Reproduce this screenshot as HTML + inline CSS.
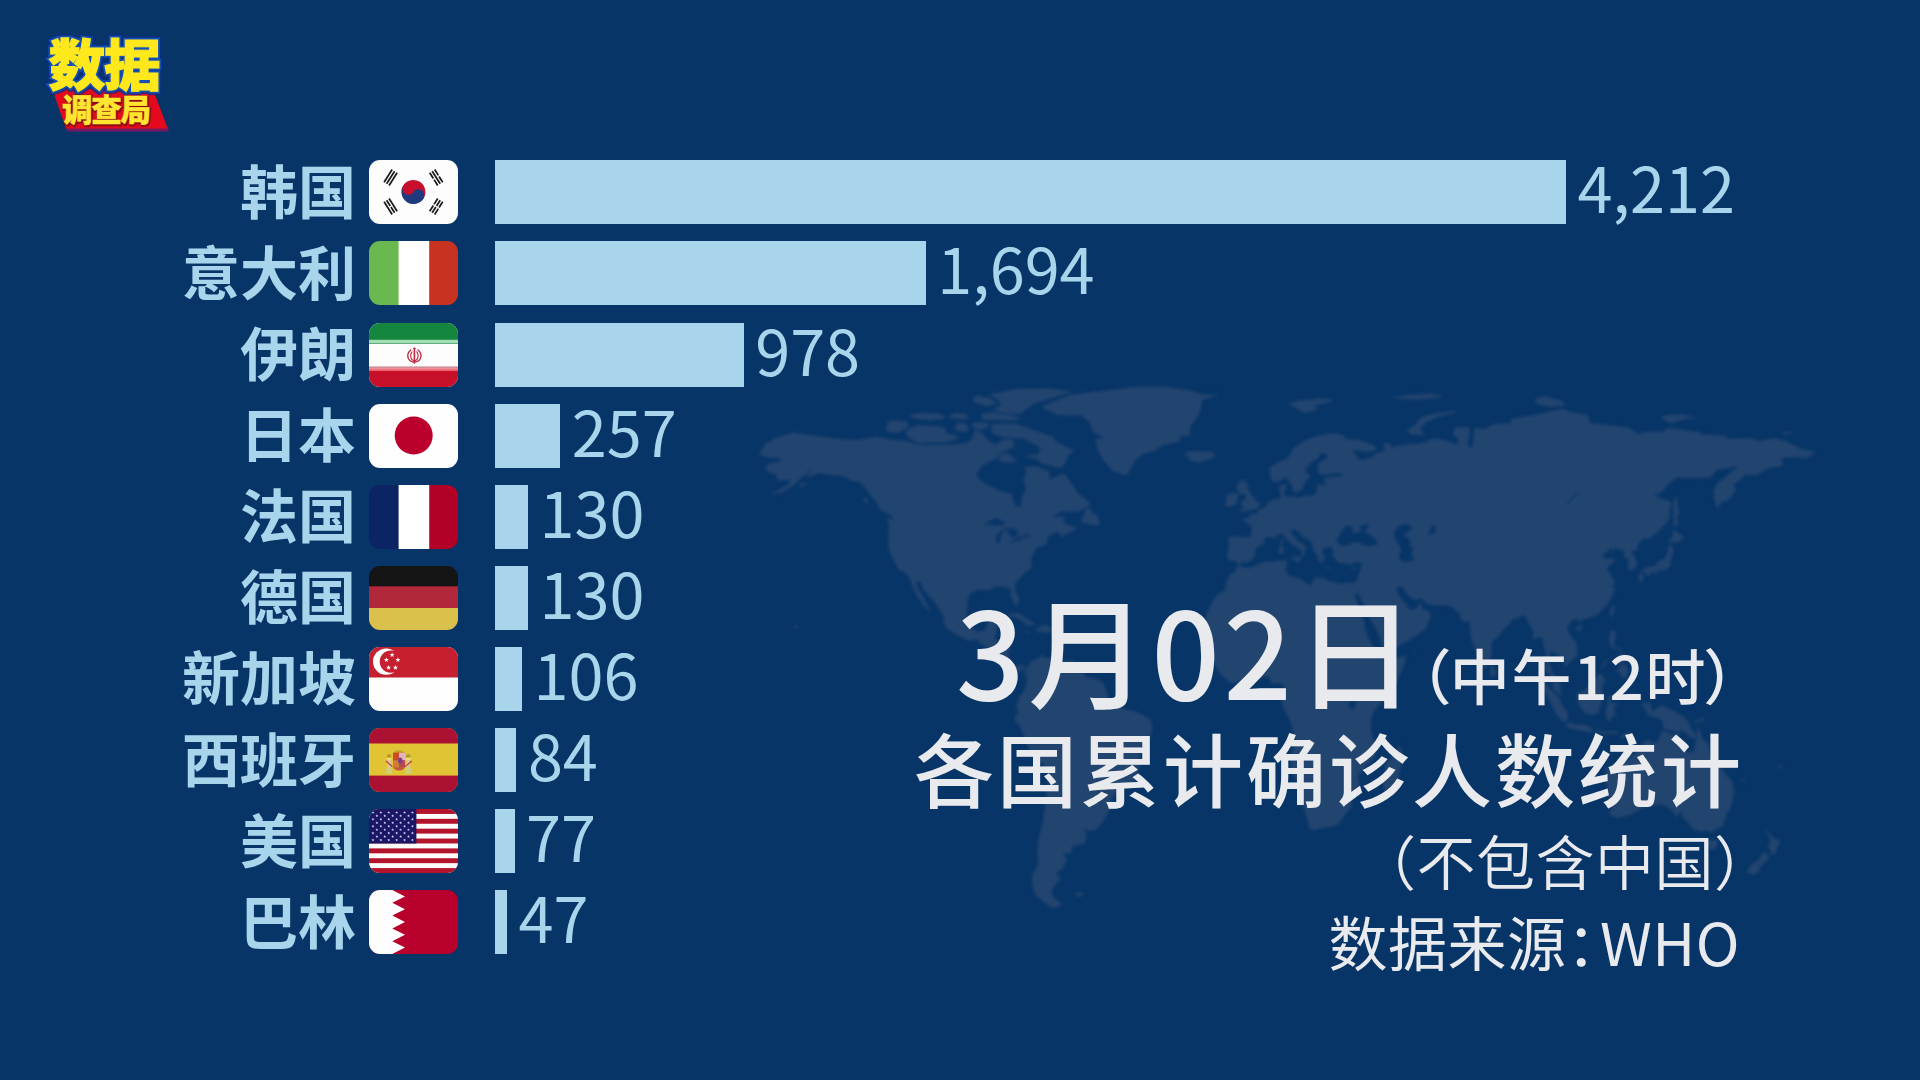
<!DOCTYPE html>
<html lang="zh-CN"><head><meta charset="utf-8"><title>各国累计确诊人数统计</title>
<style>
html,body{margin:0;padding:0;}
body{width:1920px;height:1080px;overflow:hidden;background:#073567;position:relative;
 font-family:"Noto Sans CJK SC","Liberation Sans",sans-serif;}
.abs{position:absolute;}
.row{position:absolute;left:0;width:1920px;height:64px;}
.lbl{position:absolute;right:1564px;top:-3.5px;height:64px;line-height:64px;font-size:58px;font-weight:700;color:#a8d5eb;white-space:nowrap;}
.flag{position:absolute;left:368.5px;top:0;width:89px;height:64px;border-radius:11px;overflow:hidden;}
.flag svg{display:block;width:89px;height:64px;}
.bar{position:absolute;left:495px;top:0;height:64px;background:#a8d5eb;}
.val{position:absolute;top:-6px;height:64px;line-height:64px;font-size:63px;font-weight:400;color:#a8d5eb;white-space:nowrap;}
.t{position:absolute;white-space:nowrap;color:#e9eaee;}
</style></head>
<body>
<svg class="abs" id="worldmap" style="left:0;top:0" width="1920" height="1080" viewBox="0 0 1920 1080"><defs><filter id="mb" x="-2%" y="-2%" width="104%" height="104%"><feGaussianBlur stdDeviation="1.4"/></filter></defs><path d="M759.4 454.4L765.3 443.9L777.1 437.5L793.3 432.6L812.5 435.6L839.0 439.0L856.8 440.1L877.4 436.8L889.2 439.4L906.9 441.2L918.7 445.0L936.4 445.0L948.2 445.0L965.9 443.1L971.8 439.4L974.8 430.0L980.6 431.9L989.5 441.2L995.4 445.0L1004.2 439.4L1013.1 439.4L1014.6 446.9L1001.3 452.5L996.9 458.1L982.1 465.6L976.2 475.0L980.6 480.6L989.5 486.2L1004.2 492.6L1012.2 493.8L1013.1 501.2L1017.5 507.6L1020.5 506.9L1022.0 497.5L1026.4 488.1L1023.4 479.9L1026.4 473.1L1024.9 466.4L1036.7 466.4L1048.5 471.2L1050.0 479.5L1061.8 473.9L1064.7 473.9L1072.1 484.4L1078.0 493.8L1086.8 499.4L1090.7 505.0L1086.8 507.2L1078.0 511.8L1060.3 511.8L1051.5 518.1L1063.2 516.2L1064.7 523.8L1075.0 527.5L1078.0 523.8L1075.0 530.1L1066.2 533.9L1060.3 536.9L1058.8 531.2L1057.3 532.0L1048.5 536.1L1046.4 542.5L1048.5 543.6L1042.6 545.5L1036.7 548.1L1032.3 555.6L1030.8 561.2L1031.7 567.6L1024.9 572.9L1016.0 581.9L1015.2 589.4L1019.0 599.5L1018.1 605.5L1015.5 605.5L1010.7 595.8L1011.0 589.4L1007.2 587.5L1001.3 586.4L992.5 586.8L991.0 590.5L986.5 590.1L977.7 589.4L968.8 595.0L967.4 603.2L966.5 615.6L970.3 626.9L976.2 631.8L985.1 630.6L988.0 621.2L998.3 619.4L996.9 630.6L994.5 640.0L1001.3 640.4L1009.3 643.8L1008.7 658.8L1011.6 665.5L1019.0 665.5L1022.0 664.4L1026.4 667.8L1027.0 670.4L1024.0 672.6L1024.9 667.0L1019.0 672.6L1014.6 671.1L1010.1 668.9L1004.2 662.5L1001.9 658.8L996.9 651.2L989.5 648.2L982.7 645.2L976.2 639.2L968.8 640.4L957.0 635.1L946.7 628.8L943.8 623.1L944.4 617.5L936.4 605.1L932.0 598.8L923.1 589.4L921.6 582.6L916.3 581.1L917.2 587.5L923.1 596.9L927.5 606.2L932.0 613.8L924.6 607.0L917.2 596.1L913.4 587.5L909.6 578.1L905.4 572.5L899.2 570.6L895.1 562.0L892.1 557.5L888.6 548.9L888.6 538.8L889.2 526.4L887.1 518.5L892.1 518.9L893.6 522.6L892.7 516.2L886.2 512.5L878.9 508.8L877.4 503.1L870.6 495.6L867.1 490.0L859.7 481.8L852.3 481.4L843.5 475.8L830.2 475.0L818.4 473.1L808.1 477.6L806.6 471.2L812.5 470.5L802.2 476.9L794.8 484.4L783.0 491.9L769.7 495.6L777.1 491.1L788.9 484.4L790.4 479.9L777.1 480.2L777.1 475.0L768.2 472.0L765.3 467.5L768.8 463.8L780.0 461.9L780.0 458.1L769.7 458.1ZM1074.2 450.2L1067.7 456.6L1064.7 464.1L1060.3 467.9L1042.6 463.8L1035.2 458.5L1024.9 456.6L1030.8 455.1L1038.2 454.4L1041.1 448.8L1033.8 443.9L1023.4 438.2L1016.0 438.2L1004.2 437.5L992.5 433.8L991.0 424.4L1004.2 423.2L1016.0 423.6L1024.9 427.0L1035.2 430.8L1044.1 433.8L1052.9 436.8L1055.9 441.2L1066.2 446.9ZM957.0 439.4L945.2 442.8L930.5 442.4L918.7 443.5L908.4 437.5L905.4 431.9L909.8 428.1L918.7 425.1L936.4 426.2L945.2 428.1L946.7 433.8L957.0 435.6ZM886.2 430.0L892.1 433.0L899.5 431.9L908.4 426.2L906.9 421.4L895.1 420.6L887.7 421.8ZM1019.0 413.9L1026.4 409.4L1033.8 403.8L1057.3 396.2L1073.6 391.4L1048.5 388.4L1019.0 388.8L989.5 394.4L998.3 400.0L1001.3 405.6L992.5 409.4L1004.2 413.5ZM974.8 401.9L986.5 406.4L996.9 403.8L989.5 398.1L977.7 395.5L971.8 398.9ZM1019.0 419.9L1004.2 420.6L983.6 419.9L980.6 413.9L992.5 412.0L1017.5 416.5ZM945.2 418.8L930.5 419.9L915.8 418.8L908.4 415.0L921.6 413.1L936.4 413.5L943.8 415.8ZM988.0 427.0L980.6 430.0L973.3 428.1L971.8 423.2L983.6 422.5L988.6 423.6ZM968.8 430.0L963.0 432.6L954.1 428.9L957.0 423.6L965.9 423.2ZM1017.5 461.1L1007.2 463.0L998.3 461.1L1001.3 453.6L1008.7 453.2L1014.6 458.9ZM968.8 418.8L960.0 419.1L948.2 417.6L954.1 413.1L965.9 413.9ZM1080.1 521.5L1089.8 524.5L1098.7 525.2L1099.5 521.5L1097.2 515.1L1091.3 512.5L1090.7 506.9L1085.4 510.6L1082.4 518.1ZM1004.5 618.2L1011.6 613.0L1019.0 613.4L1026.4 618.6L1036.1 624.2L1026.4 625.4L1024.9 622.4L1017.5 618.2L1013.1 616.0ZM1035.2 631.4L1041.1 625.4L1048.5 625.8L1053.2 630.2L1045.5 633.2L1042.6 631.8ZM1024.0 631.4L1029.9 632.1L1027.8 633.2L1024.3 632.5ZM1056.8 631.0L1061.5 631.4L1060.3 632.9L1056.8 632.5ZM1126.7 475.4L1113.4 471.2L1103.1 460.0L1097.2 448.8L1095.7 439.4L1104.5 437.5L1092.8 431.9L1089.8 422.5L1081.0 415.0L1057.3 415.0L1041.1 406.8L1057.3 400.0L1072.1 394.4L1107.5 390.6L1137.0 386.9L1166.5 386.9L1190.1 390.6L1201.9 394.4L1219.6 394.4L1201.9 400.0L1200.4 411.2L1196.0 418.8L1190.1 426.2L1190.1 435.6L1178.3 436.4L1181.2 441.2L1163.5 445.0L1154.7 450.6L1142.9 454.0L1135.5 460.0L1131.1 467.5ZM1182.7 454.4L1190.1 451.0L1201.9 451.8L1212.2 451.4L1215.2 456.2L1210.8 458.9L1199.0 462.2L1188.6 460.4L1190.1 457.0ZM1027.0 668.1L1032.3 660.6L1039.7 657.6L1043.5 653.5L1044.1 658.8L1048.5 656.9L1052.9 660.6L1066.2 660.6L1072.1 659.9L1075.0 664.4L1078.0 668.1L1086.8 677.5L1095.7 678.2L1103.1 683.1L1107.5 693.6L1107.5 700.0L1113.4 702.6L1125.2 709.4L1132.6 710.9L1141.4 713.9L1150.9 719.9L1152.3 728.1L1150.9 735.6L1144.4 743.1L1140.0 750.6L1140.0 763.8L1137.0 775.0L1134.0 782.5L1126.7 786.2L1117.8 790.0L1111.9 797.5L1111.3 806.9L1106.0 816.2L1100.1 824.9L1095.7 830.1L1088.3 830.5L1083.0 827.5L1086.8 836.1L1084.8 843.2L1072.1 846.2L1071.2 853.0L1063.2 853.8L1066.8 859.4L1062.4 868.8L1055.9 872.5L1060.9 878.1L1051.5 889.4L1053.2 896.5L1062.4 905.1L1052.9 908.1L1044.1 902.5L1035.2 895.0L1032.3 883.8L1032.3 874.4L1038.2 865.0L1037.6 853.8L1038.2 839.5L1042.6 823.8L1044.1 812.5L1047.0 793.8L1047.9 775.0L1047.3 768.6L1042.6 763.8L1032.3 756.2L1029.9 750.6L1026.4 743.1L1022.0 730.8L1019.0 724.4L1015.2 721.8L1015.2 716.1L1019.0 712.4L1016.3 708.2L1016.6 703.8L1019.0 699.2L1019.0 696.2L1022.5 694.0L1026.4 685.0L1026.4 675.6L1024.0 672.6ZM1237.6 565.8L1249.1 568.0L1255.0 565.8L1263.8 562.0L1275.7 561.2L1284.5 560.1L1287.5 561.2L1285.4 570.6L1288.9 575.5L1299.2 578.5L1311.0 586.4L1314.0 578.1L1322.8 577.4L1328.8 581.1L1340.5 583.8L1349.4 582.6L1350.9 587.5L1355.3 596.9L1359.7 610.0L1364.2 621.2L1365.0 629.5L1370.0 641.9L1376.8 650.5L1382.4 653.1L1381.8 656.9L1387.8 660.6L1396.6 658.0L1406.0 655.4L1404.9 662.5L1399.5 675.6L1396.6 683.1L1390.7 691.8L1383.3 700.0L1377.4 706.8L1373.0 713.1L1370.6 722.5L1371.8 733.8L1374.5 741.2L1375.1 756.2L1367.1 765.6L1358.2 775.0L1359.7 790.0L1352.3 796.8L1351.5 806.9L1346.5 812.5L1339.1 823.0L1331.7 826.8L1319.9 828.2L1314.0 830.5L1309.3 828.2L1308.1 821.9L1303.7 807.6L1299.2 797.5L1297.8 784.4L1290.4 767.5L1291.9 752.5L1295.7 741.2L1293.3 731.9L1290.4 720.6L1283.0 707.5L1281.5 700.0L1283.6 692.5L1283.6 685.0L1280.1 683.1L1272.7 683.9L1268.3 676.4L1260.9 676.4L1249.1 682.0L1241.7 680.5L1232.9 683.5L1228.5 681.2L1221.1 674.5L1216.1 667.0L1210.8 658.8L1205.7 653.1L1203.4 644.9L1206.3 640.0L1206.9 628.8L1204.8 621.2L1207.8 611.1L1212.2 602.5L1216.7 595.8L1225.5 589.4L1226.4 581.9L1229.9 575.1L1234.9 572.5ZM1400.4 745.0L1403.7 758.1L1401.0 765.6L1395.1 793.0L1387.8 796.0L1383.9 788.1L1382.7 780.6L1385.7 774.2L1384.8 763.8L1390.7 758.9L1396.6 750.6ZM1238.5 565.0L1236.4 562.0L1233.2 560.5L1228.7 561.2L1227.3 554.9L1229.0 546.2L1227.9 538.8L1231.4 536.1L1240.2 536.9L1249.7 537.2L1251.5 533.1L1252.0 527.5L1248.5 523.8L1241.1 518.9L1250.3 517.4L1249.7 513.6L1255.6 514.4L1259.7 509.5L1265.3 507.2L1268.3 502.0L1272.7 499.8L1280.1 499.0L1280.7 493.8L1278.9 488.1L1280.1 485.9L1286.3 483.6L1285.4 490.0L1283.6 492.6L1284.5 495.6L1287.5 497.5L1294.8 496.0L1297.2 497.9L1309.6 494.9L1313.4 496.0L1317.0 492.6L1317.0 486.2L1319.9 484.0L1326.7 485.5L1324.3 480.6L1324.3 478.0L1337.6 476.5L1344.1 475.0L1339.1 473.1L1328.8 474.2L1321.4 475.0L1317.8 471.2L1317.5 465.6L1319.9 462.6L1328.8 456.2L1325.8 453.2L1319.9 454.0L1318.4 458.1L1311.0 462.6L1306.0 467.5L1305.7 472.4L1310.5 475.4L1308.1 478.8L1303.7 484.4L1302.2 489.2L1297.2 491.9L1293.3 492.2L1292.8 488.1L1289.8 482.5L1287.5 478.8L1286.0 476.9L1283.0 479.5L1275.7 482.5L1271.2 479.5L1269.8 473.1L1269.8 467.5L1275.7 463.8L1284.5 460.0L1290.4 454.4L1293.3 448.8L1299.2 443.9L1305.2 440.5L1312.5 437.5L1322.8 434.9L1331.1 433.4L1339.1 434.1L1346.5 436.8L1343.5 438.6L1352.3 439.8L1361.2 440.5L1374.5 445.8L1376.0 449.9L1368.6 452.1L1358.2 450.6L1352.3 449.5L1356.8 456.2L1357.7 458.9L1365.6 460.4L1367.1 458.1L1373.0 457.8L1374.5 453.6L1383.3 451.8L1384.8 445.8L1383.3 443.1L1390.7 443.9L1392.2 448.8L1396.6 446.1L1411.3 443.9L1414.3 444.2L1426.1 442.0L1433.5 438.6L1443.8 440.1L1452.7 443.1L1457.1 444.2L1458.5 439.4L1452.7 433.8L1455.6 427.4L1468.9 427.0L1469.8 433.8L1467.4 445.0L1471.8 448.8L1473.3 441.2L1474.8 428.1L1485.1 428.9L1492.5 424.4L1510.2 423.2L1511.7 418.8L1535.2 415.0L1562.7 408.6L1570.7 412.4L1588.3 415.0L1589.8 423.6L1603.1 424.4L1617.8 426.2L1629.7 428.1L1637.0 433.8L1647.3 431.9L1662.1 431.9L1668.0 428.1L1697.5 431.9L1703.4 434.5L1724.0 435.6L1728.5 439.0L1750.6 438.2L1758.0 441.2L1774.2 438.2L1786.0 441.2L1800.8 448.8L1816.1 452.5L1806.7 458.1L1791.9 457.0L1781.6 458.1L1783.1 465.6L1768.3 468.2L1757.4 475.0L1744.7 475.0L1737.3 482.5L1732.9 484.4L1735.8 490.0L1732.9 494.5L1727.0 501.2L1722.0 501.6L1717.3 508.8L1714.3 499.4L1713.7 490.0L1717.6 483.2L1725.5 476.9L1735.8 468.6L1738.8 465.6L1728.5 468.2L1717.3 469.4L1710.8 476.9L1700.5 478.0L1676.8 477.6L1669.5 483.2L1661.5 491.9L1654.1 494.9L1660.6 498.6L1669.5 501.2L1671.8 504.2L1669.5 508.8L1669.2 519.2L1662.7 526.8L1654.7 535.0L1647.3 539.5L1643.8 538.0L1640.6 541.4L1637.6 545.1L1637.0 550.0L1631.1 551.1L1633.8 555.6L1636.7 561.2L1636.4 566.9L1634.1 569.1L1628.2 571.0L1628.2 563.1L1628.8 558.6L1623.8 557.5L1624.6 551.9L1621.7 550.0L1614.9 548.1L1612.8 553.8L1612.0 547.0L1606.0 553.0L1602.2 554.5L1605.8 559.4L1611.1 558.2L1616.4 560.5L1610.5 564.2L1606.6 568.8L1609.9 573.2L1614.3 581.1L1614.6 584.5L1611.1 586.4L1614.9 588.2L1613.4 593.9L1608.1 603.6L1603.1 608.5L1598.7 613.4L1591.9 616.4L1584.5 619.4L1580.4 620.1L1579.5 623.9L1578.6 619.0L1574.2 619.0L1569.8 623.1L1566.8 629.1L1571.2 637.0L1576.0 642.2L1577.4 651.2L1576.5 656.9L1570.7 661.0L1564.8 667.4L1564.2 661.4L1558.8 658.8L1557.4 654.2L1553.0 652.4L1551.5 649.4L1550.0 653.1L1547.9 660.6L1550.6 668.1L1553.0 674.5L1556.8 676.8L1560.0 683.1L1560.0 689.9L1562.4 694.8L1560.0 694.8L1553.8 689.5L1551.2 679.4L1549.4 674.5L1545.0 669.2L1545.6 662.5L1546.2 655.0L1543.2 643.8L1542.9 638.1L1538.2 637.0L1533.2 640.0L1533.2 630.6L1527.3 621.2L1525.8 616.0L1522.0 615.6L1517.5 618.2L1511.7 619.4L1511.1 623.1L1505.8 626.9L1497.8 637.0L1491.6 641.9L1491.6 650.5L1490.4 661.4L1488.0 665.1L1483.9 669.6L1480.1 662.9L1475.7 651.2L1471.8 640.0L1469.8 628.8L1469.5 621.2L1464.5 622.0L1458.5 616.4L1461.5 614.5L1457.1 611.9L1452.7 607.0L1445.3 605.1L1436.4 605.5L1426.1 604.0L1423.2 599.9L1421.1 598.0L1415.8 600.2L1409.9 596.9L1404.9 591.2L1402.5 586.8L1399.0 586.4L1396.6 588.2L1397.5 593.1L1402.5 599.9L1403.1 603.6L1406.3 602.1L1406.9 607.8L1411.3 609.6L1415.8 608.9L1420.8 601.8L1421.7 608.1L1428.2 611.5L1431.4 615.6L1427.6 623.5L1425.5 628.8L1417.8 634.4L1409.0 640.0L1399.5 645.6L1387.8 652.0L1383.3 652.4L1381.3 644.5L1380.4 638.1L1376.0 628.8L1370.6 619.8L1368.6 611.9L1364.2 604.4L1358.8 595.0L1358.0 589.4L1356.2 595.8L1352.9 592.8L1351.2 587.5L1350.3 582.6L1355.9 582.6L1358.2 576.2L1360.9 568.0L1361.8 562.4L1356.8 562.0L1349.4 564.6L1345.0 563.1L1338.2 562.4L1335.5 559.4L1332.6 555.6L1333.2 551.9L1332.3 549.6L1331.7 547.0L1325.8 547.0L1325.8 549.2L1322.3 548.1L1322.3 552.6L1325.8 557.5L1325.8 558.6L1322.8 558.2L1323.4 560.1L1322.8 563.1L1321.1 563.1L1319.0 562.0L1317.5 558.2L1317.8 556.0L1316.4 554.5L1314.0 551.1L1312.2 548.1L1312.5 543.2L1309.6 540.6L1305.2 538.0L1300.7 535.0L1297.8 530.5L1295.4 531.6L1295.4 528.6L1291.3 530.1L1291.6 534.2L1295.1 536.9L1298.7 542.5L1302.2 542.9L1304.6 545.5L1309.6 549.2L1305.2 548.1L1304.0 551.1L1305.4 553.8L1302.5 557.5L1301.3 557.1L1302.2 553.8L1301.0 550.0L1297.8 547.4L1293.3 545.1L1291.0 543.2L1287.5 540.6L1285.4 536.9L1283.6 534.6L1281.0 533.5L1277.1 535.8L1274.2 538.4L1269.8 537.2L1266.2 536.9L1263.8 538.8L1264.4 542.9L1261.5 545.1L1257.4 547.0L1254.4 551.9L1255.6 554.5L1253.2 557.5L1252.6 559.0L1249.1 562.0L1242.0 562.4ZM1238.2 512.1L1244.7 511.4L1250.6 509.9L1258.8 508.0L1260.0 502.4L1255.9 501.2L1254.4 497.5L1250.6 493.8L1249.1 490.0L1246.7 488.1L1249.1 484.0L1244.7 483.6L1245.6 480.2L1240.2 480.2L1237.9 484.4L1236.7 487.8L1238.8 491.9L1240.5 494.5L1245.6 494.1L1245.6 498.2L1246.2 500.1L1241.7 500.1L1241.7 504.2L1239.7 505.8L1245.6 507.2L1242.3 508.4ZM1237.3 504.2L1236.7 500.1L1238.8 495.6L1235.8 493.0L1230.8 493.0L1225.5 496.8L1227.0 500.5L1224.6 505.0L1227.0 506.9L1231.4 505.8ZM1641.2 572.5L1645.9 567.2L1654.7 566.5L1658.6 560.5L1663.6 560.1L1667.4 553.8L1668.0 548.1L1671.8 544.8L1673.6 550.8L1671.0 557.5L1670.7 563.1L1670.4 566.1L1667.4 568.8L1664.5 569.9L1659.2 570.2L1655.6 574.4L1653.2 570.2L1651.8 573.2L1647.3 576.2L1645.3 574.4L1647.3 571.4L1641.5 572.9ZM1641.5 573.2L1643.8 577.0L1641.5 582.6L1639.1 582.6L1639.1 577.4L1637.6 575.1ZM1668.9 544.4L1671.5 541.4L1677.7 542.5L1684.2 537.6L1680.7 534.6L1673.3 529.8L1672.7 537.6L1668.9 539.5ZM1673.9 527.5L1678.3 524.5L1676.8 514.4L1679.8 515.5L1677.7 505.0L1676.3 496.4L1673.9 499.4L1673.3 512.5L1673.9 521.9ZM1612.0 617.5L1609.6 613.8L1612.0 605.5L1614.6 606.2L1613.4 611.9ZM1575.7 628.0L1581.0 625.0L1582.5 626.5L1578.3 631.8ZM1490.7 664.0L1494.5 668.1L1496.3 673.8L1492.5 677.5L1490.4 673.8ZM1610.5 630.6L1615.5 631.0L1614.9 639.2L1613.7 646.8L1620.8 648.2L1620.8 652.8L1617.8 648.2L1613.4 648.6L1610.8 646.4L1609.0 640.0ZM1614.9 673.8L1619.3 667.8L1624.9 663.2L1628.2 670.0L1627.3 675.6L1624.9 679.0L1620.8 675.6L1619.3 671.5ZM1614.9 660.6L1617.8 655.8L1623.8 653.1L1625.8 658.8L1623.2 662.5L1618.4 665.1L1616.4 663.2ZM1600.7 668.5L1607.5 657.6L1606.9 661.4L1602.5 668.1ZM1576.5 694.4L1578.0 692.5L1583.3 691.0L1588.3 687.6L1592.8 682.0L1597.2 675.6L1600.2 673.8L1606.0 680.1L1602.5 684.2L1602.5 692.5L1605.5 696.2L1601.6 700.0L1600.2 705.6L1598.1 713.1L1592.8 715.0L1584.5 712.8L1580.1 706.4L1576.5 698.9ZM1536.1 679.0L1542.6 680.5L1550.0 688.8L1553.0 691.8L1560.3 699.2L1560.9 703.8L1567.7 712.0L1567.1 721.8L1563.3 721.8L1556.8 715.0L1550.9 703.0L1546.2 693.6L1541.2 687.6ZM1565.3 725.5L1570.1 722.5L1575.1 724.8L1581.9 724.0L1587.5 725.9L1592.8 729.2L1592.5 732.6L1582.5 731.1L1573.6 729.2L1568.9 727.8ZM1594.8 730.8L1600.2 731.1L1606.0 731.5L1612.0 731.5L1617.8 731.1L1617.3 733.4L1609.0 733.8L1600.2 733.8L1594.8 733.0ZM1619.6 738.6L1623.8 733.8L1629.7 731.5L1628.2 734.5L1622.3 738.2ZM1608.4 697.0L1612.0 695.1L1620.8 696.2L1624.3 694.0L1622.3 698.5L1612.0 698.1L1609.6 703.8L1618.7 703.4L1613.4 707.5L1616.4 716.9L1612.0 715.0L1610.5 721.0L1607.5 720.6L1606.0 713.1L1607.5 703.8ZM1631.1 692.5L1634.7 694.4L1633.2 701.9L1631.4 698.1ZM1641.5 703.0L1650.3 703.0L1651.8 711.2L1661.5 705.6L1671.0 709.8L1682.8 716.1L1688.7 722.5L1691.0 728.1L1699.0 739.8L1690.1 737.5L1681.3 728.9L1676.8 734.5L1671.0 734.1L1664.5 731.1L1661.5 719.5L1653.2 716.5L1647.3 715.0L1646.8 710.5L1642.3 705.6ZM1692.5 721.0L1699.0 720.6L1704.0 715.8L1703.4 719.9L1697.5 723.6ZM1605.1 769.0L1606.7 784.0L1609.3 799.0L1611.6 806.5L1609.3 815.1L1619.0 817.8L1632.0 814.0L1638.5 810.2L1645.0 807.6L1654.7 805.0L1661.9 804.6L1671.0 809.5L1676.5 817.0L1682.3 810.2L1682.3 817.8L1685.6 819.6L1689.8 824.5L1693.7 829.4L1701.8 832.0L1706.6 829.8L1711.2 833.1L1716.4 828.6L1722.9 826.4L1726.8 813.6L1731.0 806.5L1734.2 793.4L1732.6 782.1L1726.1 774.6L1720.6 767.1L1713.1 758.9L1709.9 752.1L1707.9 742.8L1702.8 740.1L1698.5 727.0L1695.9 735.2L1695.3 746.5L1693.0 752.5L1687.2 752.1L1682.3 746.5L1676.5 742.8L1680.0 732.2L1674.2 731.5L1666.4 728.9L1661.2 732.6L1657.3 742.0L1652.1 742.8L1647.6 739.0L1641.7 744.6L1636.9 751.4L1632.7 754.0L1628.8 760.0L1622.3 761.5L1615.1 763.8L1607.7 767.9ZM1705.7 839.1L1711.5 840.6L1717.4 839.5L1717.0 845.9L1713.1 850.0L1709.2 848.5L1707.3 844.0ZM1764.5 829.0L1769.2 833.1L1773.6 838.0L1780.1 841.0L1777.2 848.1L1775.1 853.8L1770.7 855.2L1771.2 850.0L1767.7 847.4L1770.4 842.5L1769.8 836.9ZM1764.5 851.9L1769.2 856.4L1765.3 862.0L1760.3 866.1L1758.9 872.1L1753.5 874.8L1746.2 872.5L1751.2 865.0L1758.0 860.9L1762.4 853.8ZM1738.8 775.8L1746.2 782.5L1747.7 784.0L1741.8 779.9ZM1286.9 403.8L1299.2 400.8L1308.1 400.0L1319.9 398.5L1334.7 399.6L1325.8 403.0L1314.0 405.2L1318.4 409.4L1305.2 412.8L1297.8 409.4L1294.8 406.8ZM1406.9 430.8L1411.3 434.5L1424.0 434.9L1420.2 428.1L1427.6 421.4L1437.9 416.9L1458.0 412.0L1451.2 411.2L1432.0 413.9L1420.2 418.0L1415.8 424.4L1409.9 428.1ZM1390.7 398.1L1408.4 399.2L1426.1 398.9L1443.8 397.0L1432.0 393.6L1408.4 395.1ZM1536.7 403.8L1550.0 406.8L1564.8 405.6L1561.8 400.8L1544.1 396.2L1535.2 399.2ZM1660.6 417.6L1671.0 423.2L1685.7 418.8L1697.5 418.0L1685.7 415.0L1668.0 415.0ZM1781.6 433.8L1790.4 434.1L1793.4 432.2L1784.5 431.9ZM1291.6 557.5L1301.0 556.4L1299.5 562.4L1291.9 559.0ZM1279.2 553.8L1279.2 546.6L1282.1 545.5L1283.6 550.0L1283.0 553.4ZM1280.4 540.6L1282.7 538.8L1283.0 544.4L1281.0 544.4ZM1324.3 566.9L1332.6 568.0L1327.3 569.1ZM1350.3 568.8L1356.8 566.5L1353.8 570.2ZM1412.2 652.8L1415.8 652.8L1413.7 653.9ZM794.8 624.2L797.8 625.8L796.0 628.8L794.8 626.9ZM1075.0 893.1L1083.9 892.4L1082.4 895.8L1076.5 895.8ZM1778.0 765.6L1782.2 766.0L1781.0 768.2L1778.0 767.9ZM799.2 484.4L805.1 481.8L805.1 485.5L800.7 487.0ZM862.6 497.5L866.5 497.5L868.0 503.9L864.7 502.0ZM1399.5 525.6L1405.5 523.8L1411.3 525.6L1411.3 530.1L1406.0 533.1L1403.4 533.9L1409.9 539.9L1410.5 546.2L1414.0 547.4L1411.3 552.6L1414.3 560.1L1405.5 562.4L1399.5 559.4L1399.3 554.5L1401.0 548.9L1397.2 542.5L1395.1 538.8L1393.7 533.1L1395.7 529.0ZM1340.5 545.5L1347.9 545.5L1353.8 542.5L1358.2 542.1L1364.2 545.5L1371.5 545.9L1377.7 544.0L1376.8 540.2L1372.1 536.9L1368.0 533.5L1365.0 531.2L1368.0 526.4L1370.6 523.0L1365.9 524.5L1358.8 526.8L1362.4 530.5L1359.1 531.6L1354.1 533.5L1351.2 529.8L1353.8 527.1L1348.8 525.2L1345.6 526.0L1342.6 530.5L1339.7 535.0L1337.3 538.0L1336.4 540.6L1337.9 543.6ZM983.6 524.5L995.4 518.1L1004.2 521.9L1005.1 525.6L998.3 525.6L989.5 524.9ZM996.3 543.2L999.8 543.2L1001.3 535.0L1004.8 528.2L1014.6 528.2L1019.0 532.8L1014.0 538.0L1009.3 535.8L1008.7 531.2L1002.8 529.4L996.0 535.0ZM1009.3 543.2L1022.0 539.9L1020.5 538.0L1029.9 536.9L1029.3 534.2L1020.5 535.8L1011.6 541.4ZM1349.4 701.1L1355.3 699.2L1355.3 707.5L1350.9 709.8L1348.5 705.6ZM1561.8 506.5L1569.2 503.1L1578.0 493.8L1578.9 490.8L1573.6 496.4L1566.2 503.9ZM1427.6 535.0L1432.0 525.6L1436.4 526.4L1435.0 533.1Z" fill="#24446f" fill-rule="evenodd" filter="url(#mb)"/></svg>
<svg class="abs" id="logo" style="left:30px;top:20px" width="160" height="125" viewBox="30 20 160 125" font-family="'Noto Sans CJK SC','Liberation Sans',sans-serif" font-weight="900">
<polygon points="66,128 167.8,128 169,131.6 67.3,131.6" fill="#7a1762"/>
<polygon points="52.2,89 152.8,89 167.8,128.4 66,128.4" fill="#e30a1e"/>
<g font-size="57" letter-spacing="-1.6" transform="matrix(1 0 0 .965 0 2.98)">
<text x="48.5" y="84.5" fill="#0a2f86" stroke="#0a2f86" stroke-width="8.4" stroke-linejoin="round" opacity="0.8">数据</text>
<text x="48.5" y="84.5" fill="#1450b4" stroke="#1450b4" stroke-width="4.6" stroke-linejoin="miter">数据</text>
<text x="48.5" y="84.5" fill="#ffe81c" stroke="#ffe81c" stroke-width="1.1" stroke-linejoin="miter">数据</text>
</g>
<g font-size="30.5" letter-spacing="-1.3">
<text x="62.6" y="121.6" fill="#8c0a14" stroke="#8c0a14" stroke-width="2.6" stroke-linejoin="round">调查局</text>
<text x="62.0" y="120.8" fill="#ffe530" stroke="#ffe530" stroke-width="0.5">调查局</text>
</g>
</svg>

<div class="row" style="top:160.3px"><div class="lbl">韩国</div><div class="flag"><svg viewBox="0 0 89 64" preserveAspectRatio="none"><rect width="89" height="64" fill="#fdfdfd"/><g transform="translate(44.4 32.0) rotate(32.45)"><path d="M-12.0 0A12.0 12.0 0 0 1 12.0 0Z" fill="#c8102e"/><path d="M-12.0 0A12.0 12.0 0 0 0 12.0 0Z" fill="#1f3a7d"/><circle cx="-6.0" cy="0" r="6.0" fill="#c8102e"/><circle cx="6.0" cy="0" r="6.0" fill="#1f3a7d"/></g><g fill="#1c1c1c"><g transform="translate(21.60 17.50) rotate(212.45)"><rect x="-3.83" y="-7.50" width="1.75" height="15.0"/><rect x="-0.88" y="-7.50" width="1.75" height="15.0"/><rect x="2.08" y="-7.50" width="1.75" height="15.0"/></g><g transform="translate(67.20 46.50) rotate(32.45)"><rect x="-3.83" y="-7.50" width="1.75" height="6.85"/><rect x="-3.83" y="0.65" width="1.75" height="6.85"/><rect x="-0.88" y="-7.50" width="1.75" height="6.85"/><rect x="-0.88" y="0.65" width="1.75" height="6.85"/><rect x="2.08" y="-7.50" width="1.75" height="6.85"/><rect x="2.08" y="0.65" width="1.75" height="6.85"/></g><g transform="translate(67.20 17.50) rotate(-32.45)"><rect x="-3.83" y="-7.50" width="1.75" height="6.85"/><rect x="-3.83" y="0.65" width="1.75" height="6.85"/><rect x="-0.88" y="-7.50" width="1.75" height="15.0"/><rect x="2.08" y="-7.50" width="1.75" height="6.85"/><rect x="2.08" y="0.65" width="1.75" height="6.85"/></g><g transform="translate(21.60 46.50) rotate(147.55)"><rect x="-3.83" y="-7.50" width="1.75" height="15.0"/><rect x="-0.88" y="-7.50" width="1.75" height="6.85"/><rect x="-0.88" y="0.65" width="1.75" height="6.85"/><rect x="2.08" y="-7.50" width="1.75" height="15.0"/></g></g></svg></div><div class="bar" style="width:1071.0px"></div><div class="val" style="left:1577.5px">4,212</div></div>
<div class="row" style="top:241.4px"><div class="lbl">意大利</div><div class="flag"><svg viewBox="0 0 89 64" preserveAspectRatio="none"><rect width="30" height="64" fill="#6ab850"/><rect x="29.6" width="31" height="64" fill="#ffffff"/><rect x="60.4" width="29" height="64" fill="#c83221"/></svg></div><div class="bar" style="width:430.7px"></div><div class="val" style="left:937.2px">1,694</div></div>
<div class="row" style="top:322.5px"><div class="lbl">伊朗</div><div class="flag"><svg viewBox="0 0 89 64" preserveAspectRatio="none"><rect width="89" height="64" fill="#fdfdfd"/><rect width="89" height="17" fill="#14863e"/><rect y="16.8" width="89" height="4.2" fill="#a4dcb6"/><rect y="20.0" width="89" height="1" fill="#5fae7c"/><rect y="43.4" width="89" height="2.1" fill="#cf8e98"/><rect y="45.4" width="89" height="2.6" fill="#f2707b"/><rect y="47.9" width="89" height="16.1" fill="#c8102a"/><g fill="none" stroke="#bf2c45" stroke-width="1.45" stroke-linecap="round" transform="translate(0 1.7) translate(45.4 31) scale(0.96 0.97) translate(-45.4 -31)"><path d="M45.4 23.6V38.4" stroke-width="1.7"/><path d="M41.6 25.2C36.6 29.2 37.8 36.2 44.6 37.6"/><path d="M49.2 25.2C54.2 29.2 53.0 36.2 46.2 37.6"/><path d="M42.9 27.0C40.4 30.0 41.2 34.6 44.7 36.2" stroke-width="1.2"/><path d="M47.9 27.0C50.4 30.0 49.6 34.6 46.1 36.2" stroke-width="1.2"/><path d="M44.3 23.4Q45.4 22.6 46.5 23.4" stroke-width="1"/></g></svg></div><div class="bar" style="width:248.7px"></div><div class="val" style="left:755.2px">978</div></div>
<div class="row" style="top:403.6px"><div class="lbl">日本</div><div class="flag"><svg viewBox="0 0 89 64" preserveAspectRatio="none"><rect width="89" height="64" fill="#fefefe"/><circle cx="44.7" cy="31.5" r="19" fill="#bc002d"/></svg></div><div class="bar" style="width:65.3px"></div><div class="val" style="left:571.8px">257</div></div>
<div class="row" style="top:484.7px"><div class="lbl">法国</div><div class="flag"><svg viewBox="0 0 89 64" preserveAspectRatio="none"><rect width="30" height="64" fill="#0b2464"/><rect x="29.6" width="31" height="64" fill="#ffffff"/><rect x="60.4" width="29" height="64" fill="#b20026"/></svg></div><div class="bar" style="width:33.1px"></div><div class="val" style="left:539.6px">130</div></div>
<div class="row" style="top:565.8px"><div class="lbl">德国</div><div class="flag"><svg viewBox="0 0 89 64" preserveAspectRatio="none"><rect width="89" height="21" fill="#151414"/><rect y="20.3" width="89" height="22" fill="#b1283a"/><rect y="42" width="89" height="22" fill="#d9c14b"/></svg></div><div class="bar" style="width:33.1px"></div><div class="val" style="left:539.6px">130</div></div>
<div class="row" style="top:646.9px"><div class="lbl">新加坡</div><div class="flag"><svg viewBox="0 0 89 64" preserveAspectRatio="none"><rect width="89" height="64" fill="#fefefe"/><rect width="89" height="30.5" fill="#c61f30"/><mask id="sgm"><rect width="89" height="64" fill="#fff"/><circle cx="21.9" cy="14.6" r="11.2" fill="#000"/></mask><circle cx="17.2" cy="14.6" r="13.2" fill="#fff" mask="url(#sgm)"/><g fill="#fff"><polygon points="23.10,5.40 23.74,7.12 25.57,7.20 24.14,8.34 24.63,10.10 23.10,9.09 21.57,10.10 22.06,8.34 20.63,7.20 22.46,7.12"/><polygon points="17.40,10.40 18.04,12.12 19.87,12.20 18.44,13.34 18.93,15.10 17.40,14.09 15.87,15.10 16.36,13.34 14.93,12.20 16.76,12.12"/><polygon points="28.90,10.20 29.54,11.92 31.37,12.00 29.94,13.14 30.43,14.90 28.90,13.89 27.37,14.90 27.86,13.14 26.43,12.00 28.26,11.92"/><polygon points="19.60,18.00 20.24,19.72 22.07,19.80 20.64,20.94 21.13,22.70 19.60,21.69 18.07,22.70 18.56,20.94 17.13,19.80 18.96,19.72"/><polygon points="26.50,18.00 27.14,19.72 28.97,19.80 27.54,20.94 28.03,22.70 26.50,21.69 24.97,22.70 25.46,20.94 24.03,19.80 25.86,19.72"/></g></svg></div><div class="bar" style="width:27.0px"></div><div class="val" style="left:533.5px">106</div></div>
<div class="row" style="top:728.0px"><div class="lbl">西班牙</div><div class="flag"><svg viewBox="0 0 89 64" preserveAspectRatio="none"><rect width="89" height="64" fill="#e1c434"/><rect width="89" height="15.5" fill="#ab1133"/><rect y="47.6" width="89" height="16.4" fill="#ab1133"/><defs><filter id="esb"><feGaussianBlur stdDeviation="0.55"/></filter></defs><g filter="url(#esb)"><path d="M25 23.8Q30 20.4 35 23.8L34.4 25H25.6Z" fill="#c9a02c"/><path d="M24 24.8H36V37.5Q36 42.2 30 42.6Q24 42.2 24 37.5Z" fill="#c4573a"/><rect x="24" y="24.8" width="6" height="7.5" fill="#cc4a2c"/><rect x="30" y="24.8" width="6" height="7.5" fill="#e7b3b8"/><rect x="24" y="32.3" width="6" height="7" fill="#cf7f34"/><rect x="30" y="32.3" width="6" height="7" fill="#b84a4e"/><ellipse cx="31.2" cy="32.6" rx="2.2" ry="3" fill="#7a3c8c"/><rect x="18.2" y="31.6" width="3.8" height="8.6" fill="#dcc39a"/><rect x="37.4" y="31.6" width="3.8" height="8.6" fill="#dcc39a"/><rect x="17.6" y="29.8" width="5" height="1.9" fill="#f0e27a"/><rect x="36.8" y="29.8" width="5" height="1.9" fill="#f0e27a"/><path d="M18 27.2Q20.1 24.6 22.2 27.2V29.6H18Z" fill="#b89a24"/><path d="M37.2 27.2Q39.3 24.6 41.4 27.2V29.6H37.2Z" fill="#a8a030"/><rect x="17.2" y="40.2" width="5.8" height="5.6" fill="#cfd07a"/><rect x="36.4" y="40.2" width="5.8" height="5.6" fill="#cfd07a"/><path d="M16.8 33L23.4 38.6M42.8 33L36.2 38.6" stroke="#c43a34" stroke-width="1.1" fill="none"/></g></svg></div><div class="bar" style="width:21.4px"></div><div class="val" style="left:527.9px">84</div></div>
<div class="row" style="top:809.1px"><div class="lbl">美国</div><div class="flag"><svg viewBox="0 0 89 64" preserveAspectRatio="none"><rect width="89" height="64" fill="#fdfdfd"/><rect y="0.000" width="89" height="4.923" fill="#b3142c"/><rect y="9.846" width="89" height="4.923" fill="#b3142c"/><rect y="19.692" width="89" height="4.923" fill="#b3142c"/><rect y="29.538" width="89" height="4.923" fill="#b3142c"/><rect y="39.385" width="89" height="4.923" fill="#b3142c"/><rect y="49.231" width="89" height="4.923" fill="#b3142c"/><rect y="59.077" width="89" height="4.923" fill="#b3142c"/><rect width="47.4" height="34.462" fill="#1b1666"/><g fill="#d6d6f4"><polygon points="3.95,1.90 4.33,2.92 5.42,2.97 4.57,3.65 4.86,4.70 3.95,4.10 3.04,4.70 3.33,3.65 2.48,2.97 3.57,2.92"/><polygon points="11.85,1.90 12.23,2.92 13.32,2.97 12.47,3.65 12.76,4.70 11.85,4.10 10.94,4.70 11.23,3.65 10.38,2.97 11.47,2.92"/><polygon points="19.75,1.90 20.13,2.92 21.22,2.97 20.37,3.65 20.66,4.70 19.75,4.10 18.84,4.70 19.13,3.65 18.28,2.97 19.37,2.92"/><polygon points="27.65,1.90 28.03,2.92 29.12,2.97 28.27,3.65 28.56,4.70 27.65,4.10 26.74,4.70 27.03,3.65 26.18,2.97 27.27,2.92"/><polygon points="35.55,1.90 35.93,2.92 37.02,2.97 36.17,3.65 36.46,4.70 35.55,4.10 34.64,4.70 34.93,3.65 34.08,2.97 35.17,2.92"/><polygon points="43.45,1.90 43.83,2.92 44.92,2.97 44.07,3.65 44.36,4.70 43.45,4.10 42.54,4.70 42.83,3.65 41.98,2.97 43.07,2.92"/><polygon points="7.90,5.34 8.28,6.37 9.37,6.41 8.52,7.09 8.81,8.15 7.90,7.54 6.99,8.15 7.28,7.09 6.43,6.41 7.52,6.37"/><polygon points="15.80,5.34 16.18,6.37 17.27,6.41 16.42,7.09 16.71,8.15 15.80,7.54 14.89,8.15 15.18,7.09 14.33,6.41 15.42,6.37"/><polygon points="23.70,5.34 24.08,6.37 25.17,6.41 24.32,7.09 24.61,8.15 23.70,7.54 22.79,8.15 23.08,7.09 22.23,6.41 23.32,6.37"/><polygon points="31.60,5.34 31.98,6.37 33.07,6.41 32.22,7.09 32.51,8.15 31.60,7.54 30.69,8.15 30.98,7.09 30.13,6.41 31.22,6.37"/><polygon points="39.50,5.34 39.88,6.37 40.97,6.41 40.12,7.09 40.41,8.15 39.50,7.54 38.59,8.15 38.88,7.09 38.03,6.41 39.12,6.37"/><polygon points="3.95,8.79 4.33,9.81 5.42,9.86 4.57,10.54 4.86,11.59 3.95,10.99 3.04,11.59 3.33,10.54 2.48,9.86 3.57,9.81"/><polygon points="11.85,8.79 12.23,9.81 13.32,9.86 12.47,10.54 12.76,11.59 11.85,10.99 10.94,11.59 11.23,10.54 10.38,9.86 11.47,9.81"/><polygon points="19.75,8.79 20.13,9.81 21.22,9.86 20.37,10.54 20.66,11.59 19.75,10.99 18.84,11.59 19.13,10.54 18.28,9.86 19.37,9.81"/><polygon points="27.65,8.79 28.03,9.81 29.12,9.86 28.27,10.54 28.56,11.59 27.65,10.99 26.74,11.59 27.03,10.54 26.18,9.86 27.27,9.81"/><polygon points="35.55,8.79 35.93,9.81 37.02,9.86 36.17,10.54 36.46,11.59 35.55,10.99 34.64,11.59 34.93,10.54 34.08,9.86 35.17,9.81"/><polygon points="43.45,8.79 43.83,9.81 44.92,9.86 44.07,10.54 44.36,11.59 43.45,10.99 42.54,11.59 42.83,10.54 41.98,9.86 43.07,9.81"/><polygon points="7.90,12.23 8.28,13.26 9.37,13.31 8.52,13.99 8.81,15.04 7.90,14.44 6.99,15.04 7.28,13.99 6.43,13.31 7.52,13.26"/><polygon points="15.80,12.23 16.18,13.26 17.27,13.31 16.42,13.99 16.71,15.04 15.80,14.44 14.89,15.04 15.18,13.99 14.33,13.31 15.42,13.26"/><polygon points="23.70,12.23 24.08,13.26 25.17,13.31 24.32,13.99 24.61,15.04 23.70,14.44 22.79,15.04 23.08,13.99 22.23,13.31 23.32,13.26"/><polygon points="31.60,12.23 31.98,13.26 33.07,13.31 32.22,13.99 32.51,15.04 31.60,14.44 30.69,15.04 30.98,13.99 30.13,13.31 31.22,13.26"/><polygon points="39.50,12.23 39.88,13.26 40.97,13.31 40.12,13.99 40.41,15.04 39.50,14.44 38.59,15.04 38.88,13.99 38.03,13.31 39.12,13.26"/><polygon points="3.95,15.68 4.33,16.70 5.42,16.75 4.57,17.43 4.86,18.48 3.95,17.88 3.04,18.48 3.33,17.43 2.48,16.75 3.57,16.70"/><polygon points="11.85,15.68 12.23,16.70 13.32,16.75 12.47,17.43 12.76,18.48 11.85,17.88 10.94,18.48 11.23,17.43 10.38,16.75 11.47,16.70"/><polygon points="19.75,15.68 20.13,16.70 21.22,16.75 20.37,17.43 20.66,18.48 19.75,17.88 18.84,18.48 19.13,17.43 18.28,16.75 19.37,16.70"/><polygon points="27.65,15.68 28.03,16.70 29.12,16.75 28.27,17.43 28.56,18.48 27.65,17.88 26.74,18.48 27.03,17.43 26.18,16.75 27.27,16.70"/><polygon points="35.55,15.68 35.93,16.70 37.02,16.75 36.17,17.43 36.46,18.48 35.55,17.88 34.64,18.48 34.93,17.43 34.08,16.75 35.17,16.70"/><polygon points="43.45,15.68 43.83,16.70 44.92,16.75 44.07,17.43 44.36,18.48 43.45,17.88 42.54,18.48 42.83,17.43 41.98,16.75 43.07,16.70"/><polygon points="7.90,19.13 8.28,20.15 9.37,20.20 8.52,20.88 8.81,21.93 7.90,21.33 6.99,21.93 7.28,20.88 6.43,20.20 7.52,20.15"/><polygon points="15.80,19.13 16.18,20.15 17.27,20.20 16.42,20.88 16.71,21.93 15.80,21.33 14.89,21.93 15.18,20.88 14.33,20.20 15.42,20.15"/><polygon points="23.70,19.13 24.08,20.15 25.17,20.20 24.32,20.88 24.61,21.93 23.70,21.33 22.79,21.93 23.08,20.88 22.23,20.20 23.32,20.15"/><polygon points="31.60,19.13 31.98,20.15 33.07,20.20 32.22,20.88 32.51,21.93 31.60,21.33 30.69,21.93 30.98,20.88 30.13,20.20 31.22,20.15"/><polygon points="39.50,19.13 39.88,20.15 40.97,20.20 40.12,20.88 40.41,21.93 39.50,21.33 38.59,21.93 38.88,20.88 38.03,20.20 39.12,20.15"/><polygon points="3.95,22.57 4.33,23.60 5.42,23.64 4.57,24.32 4.86,25.38 3.95,24.77 3.04,25.38 3.33,24.32 2.48,23.64 3.57,23.60"/><polygon points="11.85,22.57 12.23,23.60 13.32,23.64 12.47,24.32 12.76,25.38 11.85,24.77 10.94,25.38 11.23,24.32 10.38,23.64 11.47,23.60"/><polygon points="19.75,22.57 20.13,23.60 21.22,23.64 20.37,24.32 20.66,25.38 19.75,24.77 18.84,25.38 19.13,24.32 18.28,23.64 19.37,23.60"/><polygon points="27.65,22.57 28.03,23.60 29.12,23.64 28.27,24.32 28.56,25.38 27.65,24.77 26.74,25.38 27.03,24.32 26.18,23.64 27.27,23.60"/><polygon points="35.55,22.57 35.93,23.60 37.02,23.64 36.17,24.32 36.46,25.38 35.55,24.77 34.64,25.38 34.93,24.32 34.08,23.64 35.17,23.60"/><polygon points="43.45,22.57 43.83,23.60 44.92,23.64 44.07,24.32 44.36,25.38 43.45,24.77 42.54,25.38 42.83,24.32 41.98,23.64 43.07,23.60"/><polygon points="7.90,26.02 8.28,27.04 9.37,27.09 8.52,27.77 8.81,28.82 7.90,28.22 6.99,28.82 7.28,27.77 6.43,27.09 7.52,27.04"/><polygon points="15.80,26.02 16.18,27.04 17.27,27.09 16.42,27.77 16.71,28.82 15.80,28.22 14.89,28.82 15.18,27.77 14.33,27.09 15.42,27.04"/><polygon points="23.70,26.02 24.08,27.04 25.17,27.09 24.32,27.77 24.61,28.82 23.70,28.22 22.79,28.82 23.08,27.77 22.23,27.09 23.32,27.04"/><polygon points="31.60,26.02 31.98,27.04 33.07,27.09 32.22,27.77 32.51,28.82 31.60,28.22 30.69,28.82 30.98,27.77 30.13,27.09 31.22,27.04"/><polygon points="39.50,26.02 39.88,27.04 40.97,27.09 40.12,27.77 40.41,28.82 39.50,28.22 38.59,28.82 38.88,27.77 38.03,27.09 39.12,27.04"/><polygon points="3.95,29.47 4.33,30.49 5.42,30.54 4.57,31.22 4.86,32.27 3.95,31.67 3.04,32.27 3.33,31.22 2.48,30.54 3.57,30.49"/><polygon points="11.85,29.47 12.23,30.49 13.32,30.54 12.47,31.22 12.76,32.27 11.85,31.67 10.94,32.27 11.23,31.22 10.38,30.54 11.47,30.49"/><polygon points="19.75,29.47 20.13,30.49 21.22,30.54 20.37,31.22 20.66,32.27 19.75,31.67 18.84,32.27 19.13,31.22 18.28,30.54 19.37,30.49"/><polygon points="27.65,29.47 28.03,30.49 29.12,30.54 28.27,31.22 28.56,32.27 27.65,31.67 26.74,32.27 27.03,31.22 26.18,30.54 27.27,30.49"/><polygon points="35.55,29.47 35.93,30.49 37.02,30.54 36.17,31.22 36.46,32.27 35.55,31.67 34.64,32.27 34.93,31.22 34.08,30.54 35.17,30.49"/><polygon points="43.45,29.47 43.83,30.49 44.92,30.54 44.07,31.22 44.36,32.27 43.45,31.67 42.54,32.27 42.83,31.22 41.98,30.54 43.07,30.49"/></g></svg></div><div class="bar" style="width:19.6px"></div><div class="val" style="left:526.1px">77</div></div>
<div class="row" style="top:890.2px"><div class="lbl">巴林</div><div class="flag"><svg viewBox="0 0 89 64" preserveAspectRatio="none"><rect width="89" height="64" fill="#b8002d"/><polygon points="0,0 23.3,0 36,6.40 23.3,12.80 36,19.20 23.3,25.60 36,32.00 23.3,38.40 36,44.80 23.3,51.20 36,57.60 23.3,64.00 0,64" fill="#fefefe"/></svg></div><div class="bar" style="width:12.0px"></div><div class="val" style="left:518.5px">47</div></div>
<div class="t" id="date" style="left:956px;top:558px;font-size:120px;font-weight:500;line-height:180px;letter-spacing:3.6px;">3月02日</div>
<div class="t" id="noon" style="right:151px;top:634px;font-size:60px;font-weight:500;line-height:80px;letter-spacing:1.8px;"><span style="position:relative;left:3.5px">（</span>中午12时<span style="position:relative;left:-4px">）</span></div>
<div class="t" id="title" style="right:176px;top:716px;font-size:80px;font-weight:500;line-height:100px;letter-spacing:3px;">各国累计确诊人数统计</div>
<div class="t" id="excl" style="right:146.6px;top:820px;font-size:59px;font-weight:350;line-height:80px;letter-spacing:0.5px;">（不包含中国）</div>
<div class="t" id="srcl" style="right:180px;top:900.5px;font-size:59px;font-weight:400;line-height:80px;letter-spacing:0.5px;">数据来源<span style="margin-right:-26px">：</span>WHO</div>
</body></html>
